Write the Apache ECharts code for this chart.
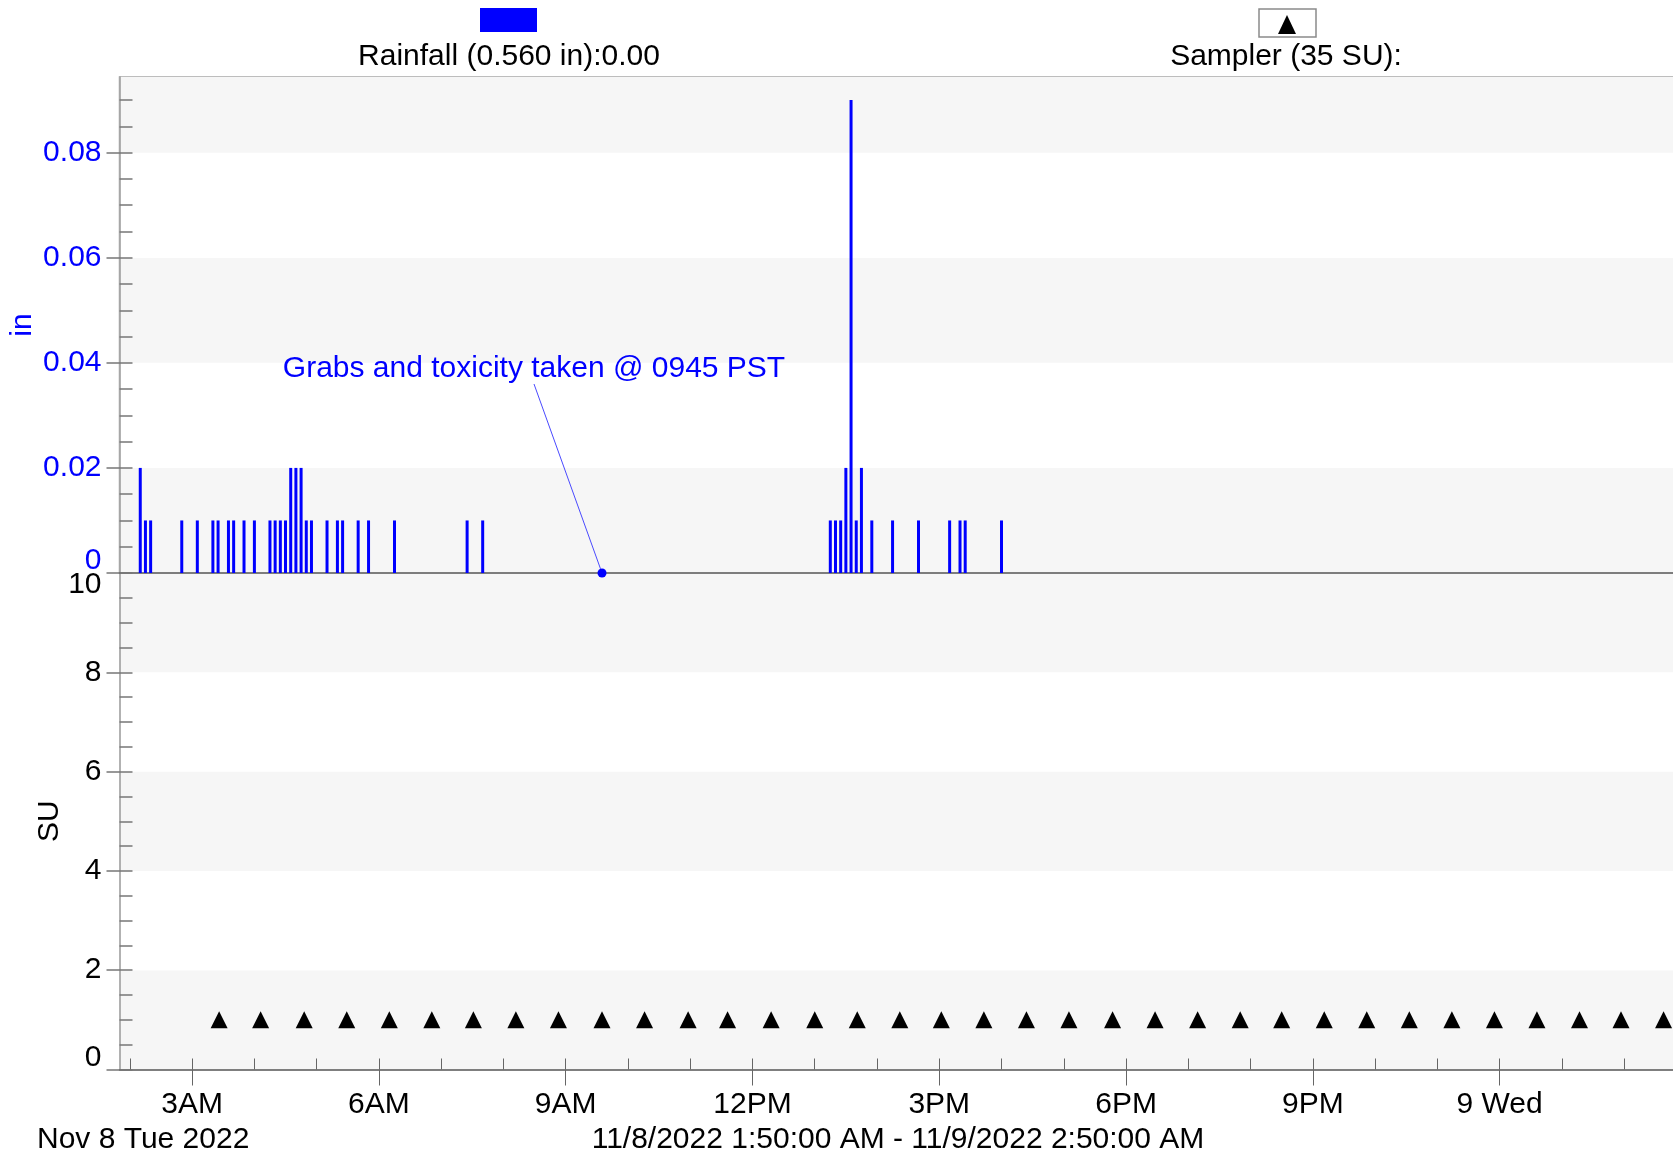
<!DOCTYPE html>
<html>
<head>
<meta charset="utf-8">
<script src="https://cdn.jsdelivr.net/npm/echarts@6/dist/echarts.min.js"></script>
<style>
html,body{margin:0;padding:0;background:#ffffff;}
#chart{width:1673px;height:1155px;}
</style>
</head>
<body>
<div id="chart"></div>
<script>
const FONT = "'Liberation Sans', Arial, Helvetica, sans-serif";

// ---- time range ----
const xStart = '2022-11-08 01:50';
const xEnd = '2022-11-09 02:50';

// ---- Rainfall (in), 5-minute totals ----
const rainTimes = [
  '2022-11-08 02:10','2022-11-08 02:15','2022-11-08 02:20','2022-11-08 02:50','2022-11-08 03:05',
  '2022-11-08 03:20','2022-11-08 03:25','2022-11-08 03:35','2022-11-08 03:40','2022-11-08 03:50',
  '2022-11-08 04:00','2022-11-08 04:15','2022-11-08 04:20','2022-11-08 04:25','2022-11-08 04:30',
  '2022-11-08 04:35','2022-11-08 04:40','2022-11-08 04:45','2022-11-08 04:50','2022-11-08 04:55',
  '2022-11-08 05:10','2022-11-08 05:20','2022-11-08 05:25','2022-11-08 05:40','2022-11-08 05:50',
  '2022-11-08 06:15','2022-11-08 07:25','2022-11-08 07:40',
  '2022-11-08 13:15','2022-11-08 13:20','2022-11-08 13:25','2022-11-08 13:30','2022-11-08 13:35',
  '2022-11-08 13:40','2022-11-08 13:45','2022-11-08 13:55','2022-11-08 14:15','2022-11-08 14:40',
  '2022-11-08 15:10','2022-11-08 15:20','2022-11-08 15:25','2022-11-08 16:00'
];
const rainValues = [
  0.02,0.01,0.01,0.01,0.01,
  0.01,0.01,0.01,0.01,0.01,
  0.01,0.01,0.01,0.01,0.01,
  0.02,0.02,0.02,0.01,0.01,
  0.01,0.01,0.01,0.01,0.01,
  0.01,0.01,0.01,
  0.01,0.01,0.01,0.02,0.09,
  0.01,0.02,0.01,0.01,0.01,
  0.01,0.01,0.01,0.01
];

// ---- Sampler events (SU) ----
const samplerTimes = [
  '2022-11-08 03:26','2022-11-08 04:06','2022-11-08 04:48','2022-11-08 05:29','2022-11-08 06:10',
  '2022-11-08 06:51','2022-11-08 07:31','2022-11-08 08:12','2022-11-08 08:53','2022-11-08 09:35',
  '2022-11-08 10:16','2022-11-08 10:58','2022-11-08 11:36','2022-11-08 12:18','2022-11-08 13:00',
  '2022-11-08 13:41','2022-11-08 14:22','2022-11-08 15:02','2022-11-08 15:43','2022-11-08 16:24',
  '2022-11-08 17:05','2022-11-08 17:47','2022-11-08 18:28','2022-11-08 19:09','2022-11-08 19:50',
  '2022-11-08 20:30','2022-11-08 21:11','2022-11-08 21:52','2022-11-08 22:33','2022-11-08 23:14',
  '2022-11-08 23:55','2022-11-09 00:36','2022-11-09 01:17','2022-11-09 01:57','2022-11-09 02:38'
];
const samplerValues = [
  1,1,1,1,1, 1,1,1,1,1, 1,1,1,1,1, 1,1,1,1,1, 1,1,1,1,1, 1,1,1,1,1, 1,1,1,1,1
];

// ---- annotation ----
const annotationTime = '2022-11-08 09:35';
const annotationValue = 0;
const annotationText = 'Grabs and toxicity taken @ 0945 PST';

// ---- ticks ----
const rainLabelTicks = [0, 0.02, 0.04, 0.06, 0.08];
const rainAllTicks = [0,0.005,0.01,0.015,0.02,0.025,0.03,0.035,0.04,0.045,0.05,0.055,0.06,0.065,0.07,0.075,0.08,0.085,0.09];
const suLabelTicks = [0, 2, 4, 6, 8, 10];
const suAllTicks = [0,0.5,1,1.5,2,2.5,3,3.5,4,4.5,5,5.5,6,6.5,7,7.5,8,8.5,9,9.5,10];
const xLabelTimes = ['2022-11-08 03:00','2022-11-08 06:00','2022-11-08 09:00','2022-11-08 12:00',
                     '2022-11-08 15:00','2022-11-08 18:00','2022-11-08 21:00','2022-11-09 00:00'];
const xLabelTexts = ['3AM','6AM','9AM','12PM','3PM','6PM','9PM','9 Wed'];
const xHourTimes = [
  '2022-11-08 02:00','2022-11-08 03:00','2022-11-08 04:00','2022-11-08 05:00','2022-11-08 06:00',
  '2022-11-08 07:00','2022-11-08 08:00','2022-11-08 09:00','2022-11-08 10:00','2022-11-08 11:00',
  '2022-11-08 12:00','2022-11-08 13:00','2022-11-08 14:00','2022-11-08 15:00','2022-11-08 16:00',
  '2022-11-08 17:00','2022-11-08 18:00','2022-11-08 19:00','2022-11-08 20:00','2022-11-08 21:00',
  '2022-11-08 22:00','2022-11-08 23:00','2022-11-09 00:00','2022-11-09 01:00','2022-11-09 02:00'
];
const dateLabel = 'Nov 8 Tue 2022';
const rangeLabel = '11/8/2022 1:50:00 AM - 11/9/2022 2:50:00 AM';

// ---- helpers ----
function ts(s) { return new Date(s.replace(' ', 'T') + ':00').getTime(); }
const xMin = ts(xStart), xMax = ts(xEnd);
const xLabelTs = xLabelTimes.map(ts);
const xHourTs = xHourTimes.map(ts);
const rainData = rainTimes.map((t, i) => [ts(t), rainValues[i]]);
const samplerData = samplerTimes.map((t, i) => [ts(t), samplerValues[i]]);
const rainTotal = rainValues.reduce((a, b) => a + b, 0);

const FS = 30;
const BLUE = '#0000ff';

const chart = echarts.init(document.getElementById('chart'), null, {renderer: 'canvas'});

const option = {
  animation: false,
  backgroundColor: '#ffffff',
  textStyle: {fontFamily: FONT},
  grid: [
    {left: 119.5, right: -3, top: 77, height: 496, outerBoundsMode: 'none', containLabel: false,
     show: true, borderColor: '#a8a8a8', borderWidth: 1.5, backgroundColor: 'transparent'},
    {left: 119.5, right: -3, top: 573, height: 496.5, outerBoundsMode: 'none', containLabel: false}
  ],
  xAxis: [
    {gridIndex: 0, type: 'value', position: 'bottom', min: xMin, max: xMax, scale: true,
     axisLine: {show: true, onZero: false, lineStyle: {color: '#555555', width: 1.5}},
     axisTick: {show: false}, axisLabel: {show: false}, splitLine: {show: false}},
    {gridIndex: 1, type: 'value', position: 'bottom', min: xMin, max: xMax, scale: true,
     axisLine: {show: true, onZero: false, lineStyle: {color: '#555555', width: 1.5}},
     axisTick: {show: true, inside: false, length: 16, customValues: xLabelTs, lineStyle: {color: '#666666', width: 1}},
     axisLabel: {show: true, customValues: xLabelTs, margin: 20, color: '#000000', fontSize: FS, fontFamily: FONT,
       formatter: function (v) { const i = xLabelTs.indexOf(v); return i >= 0 ? xLabelTexts[i] : ''; }},
     splitLine: {show: false}},
    {gridIndex: 1, type: 'value', position: 'bottom', min: xMin, max: xMax, scale: true,
     axisLine: {show: false, onZero: false},
     axisTick: {show: true, inside: true, length: 11, customValues: xHourTs, lineStyle: {color: '#666666', width: 1}},
     axisLabel: {show: false}, splitLine: {show: false}}
  ],
  yAxis: [
    {gridIndex: 0, type: 'value', position: 'left', min: 0, max: 0.0944, interval: 0.02,
     axisLine: {show: true, onZero: false, lineStyle: {color: '#999999', width: 1.5}},
     axisTick: {show: false},
     axisLabel: {show: true, customValues: rainLabelTicks, margin: 18, color: BLUE, fontSize: FS, fontFamily: FONT,
       formatter: function (v) { return v === 0 ? '{lo|0}' : '{n|' + Number(v).toFixed(2) + '}'; },
       rich: {lo: {padding: [0, 0, 24, 0], color: BLUE, fontSize: FS, fontFamily: FONT},
              n: {color: BLUE, fontSize: FS, fontFamily: FONT}}},
     splitLine: {show: false},
     splitArea: {show: true, areaStyle: {color: ['#f6f6f6', '#ffffff']}},
     name: 'in', nameLocation: 'middle', nameGap: 82, nameMoveOverlap: false,
     nameTextStyle: {color: BLUE, fontSize: FS, fontFamily: FONT}},
    {gridIndex: 0, type: 'value', position: 'left', min: 0, max: 0.0944,
     axisLine: {show: false, onZero: false}, axisLabel: {show: false}, splitLine: {show: false},
     axisTick: {show: true, inside: false, length: 13, customValues: rainLabelTicks, lineStyle: {color: '#777777', width: 1.5}}},
    {gridIndex: 0, type: 'value', position: 'left', min: 0, max: 0.0944,
     axisLine: {show: false, onZero: false}, axisLabel: {show: false}, splitLine: {show: false},
     axisTick: {show: true, inside: true, length: 13, customValues: rainAllTicks, lineStyle: {color: '#777777', width: 1.5}}},
    {gridIndex: 1, type: 'value', position: 'left', min: 0, max: 10, interval: 2,
     axisLine: {show: true, onZero: false, lineStyle: {color: '#999999', width: 1.5}},
     axisTick: {show: false},
     axisLabel: {show: true, customValues: suLabelTicks, margin: 18, color: '#000000', fontSize: FS, fontFamily: FONT,
       formatter: function (v) { return v === 0 ? '{lo|0}' : (v === 10 ? '{hi|10}' : '{n|' + v + '}'); },
       rich: {lo: {padding: [0, 0, 23, 0], color: '#000', fontSize: FS, fontFamily: FONT},
              hi: {padding: [24, 0, 0, 0], color: '#000', fontSize: FS, fontFamily: FONT},
              n: {color: '#000', fontSize: FS, fontFamily: FONT}}},
     splitLine: {show: false},
     splitArea: {show: true, areaStyle: {color: ['#f6f6f6', '#ffffff']}},
     name: 'SU', nameLocation: 'middle', nameGap: 55, nameMoveOverlap: false,
     nameTextStyle: {color: '#000000', fontSize: FS, fontFamily: FONT}},
    {gridIndex: 1, type: 'value', position: 'left', min: 0, max: 10,
     axisLine: {show: false, onZero: false}, axisLabel: {show: false}, splitLine: {show: false},
     axisTick: {show: true, inside: false, length: 13, customValues: suLabelTicks, lineStyle: {color: '#777777', width: 1.5}}},
    {gridIndex: 1, type: 'value', position: 'left', min: 0, max: 10,
     axisLine: {show: false, onZero: false}, axisLabel: {show: false}, splitLine: {show: false},
     axisTick: {show: true, inside: true, length: 13, customValues: suAllTicks, lineStyle: {color: '#777777', width: 1.5}}}
  ],
  series: [
    {name: 'Rainfall', type: 'bar', xAxisIndex: 0, yAxisIndex: 0, data: rainData,
     barWidth: 3, itemStyle: {color: BLUE, opacity: 1}, silent: true, z: 3},
    {name: 'Annotation', type: 'scatter', xAxisIndex: 0, yAxisIndex: 0,
     data: [[ts(annotationTime), annotationValue]], symbol: 'circle', symbolSize: 9,
     itemStyle: {color: BLUE, opacity: 1}, silent: true, z: 6,
     label: {show: true, formatter: annotationText, color: BLUE, opacity: 1, fontSize: FS, fontFamily: FONT},
     labelLayout: {x: 534, y: 369, align: 'center', verticalAlign: 'middle'},
     labelLine: {show: true, lineStyle: {color: '#4a4aff', width: 1, opacity: 1}}},
    {name: 'Sampler', type: 'scatter', xAxisIndex: 1, yAxisIndex: 3, data: samplerData,
     symbol: 'triangle', symbolSize: 17, itemStyle: {color: '#000000', opacity: 1}, silent: true, z: 4}
  ],
  graphic: [
    {type: 'rect', shape: {x: 480, y: 8, width: 57, height: 24}, style: {fill: BLUE}},
    {type: 'text', style: {text: 'Rainfall (' + rainTotal.toFixed(3) + ' in):0.00', x: 509, y: 57,
      align: 'center', verticalAlign: 'middle', fill: '#000', font: FS + 'px ' + FONT}},
    {type: 'rect', shape: {x: 1259, y: 9, width: 57, height: 28}, style: {fill: '#ffffff', stroke: '#8a8a8a', lineWidth: 1.5}},
    {type: 'polygon', shape: {points: [[1287, 15], [1278, 34], [1296, 34]]}, style: {fill: '#000'}},
    {type: 'text', style: {text: 'Sampler (' + samplerTimes.length + ' SU):', x: 1286, y: 57,
      align: 'center', verticalAlign: 'middle', fill: '#000', font: FS + 'px ' + FONT}},
    {type: 'text', style: {text: dateLabel, x: 37, y: 1140,
      align: 'left', verticalAlign: 'middle', fill: '#000', font: FS + 'px ' + FONT}},
    {type: 'text', style: {text: rangeLabel, x: 898, y: 1140,
      align: 'center', verticalAlign: 'middle', fill: '#000', font: FS + 'px ' + FONT}}
  ]
};
chart.setOption(option);
</script>
</body>
</html>
